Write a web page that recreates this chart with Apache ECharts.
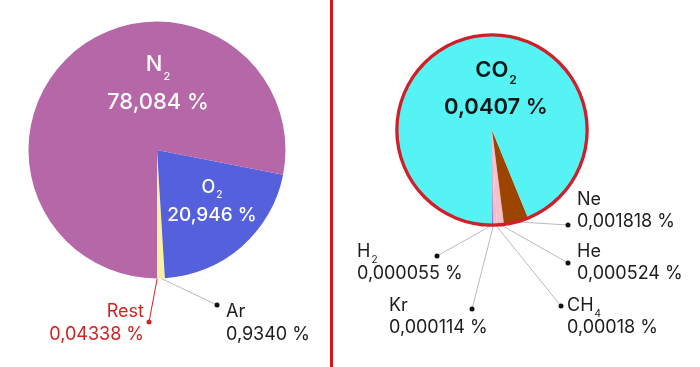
<!DOCTYPE html>
<html><head><meta charset="utf-8">
<style>html,body{margin:0;padding:0;background:#fff}#c{width:700px;height:367px}</style>
<script src="https://cdn.jsdelivr.net/npm/echarts@6/dist/echarts.min.js"></script>
</head><body><div id="c"></div>
<script>
// ---- data ----
const airNames = ['Rest', 'Ar', 'O2', 'N2'];
const airValues = [0.04338, 0.9340, 20.946, 78.084];
const airLabels = ['0,04338 %', '0,9340 %', '20,946 %', '78,084 %'];

const restNames = ['H2', 'Kr', 'CH4', 'He', 'Ne', 'CO2'];
const restValues = [0.000055, 0.000114, 0.00018, 0.000524, 0.001818, 0.0407];
const restLabels = ['0,000055 %', '0,000114 %', '0,00018 %', '0,000524 %', '0,001818 %', '0,0407 %'];

// ---- styles / layout ----
const colors = {Rest:'#b4b4b4', Ar:'#f8f1a2', O2:'#5460dc', N2:'#b567a7',
  H2:'#2b30c8', Kr:'#f3b3c0', CH4:'#f5bac6', He:'#f6bfc9', Ne:'#9c4500', CO2:'#55f3f3'};
const FONT = 'Inter, "Noto Sans", sans-serif';
// nc / vc: vertical centres of name line and value line; off: subscript drop
const textCfg = {
  N2:  {x:158, nc:64.2,  vc:102.4, align:'center', F:22, fs:11, off:12.5, vF:22, color:'#ffffff', w:500},
  O2:  {x:212, nc:187.5, vc:215,   align:'center', F:18, fs:10, off:7.5,  vF:19, color:'#ffffff', w:500},
  Rest:{x:144, nc:312,   vc:335,   align:'right',  F:18, fs:10, off:0,    vF:18, color:'#d42020', w:400},
  Ar:  {x:226, nc:312,   vc:335,   align:'left',   F:18, fs:10, off:0,    vF:18, color:'#1c1c1c', w:400},
  CO2: {x:496, nc:70.8,  vc:107.5, align:'center', F:22, fs:12, off:10,   vF:22, color:'#0c1616', w:600},
  Ne:  {x:577, nc:199.5, vc:221.5, align:'left',   F:18, fs:10, off:0,    vF:18, color:'#1c1c1c', w:400},
  He:  {x:577, nc:252,   vc:274,   align:'left',   F:18, fs:10, off:0,    vF:18, color:'#1c1c1c', w:400},
  CH4: {x:567, nc:305.5, vc:327.5, align:'left',   F:18, fs:10, off:8.5,  vF:18, color:'#1c1c1c', w:400},
  Kr:  {x:389, nc:305.5, vc:327.5, align:'left',   F:18, fs:10, off:0,    vF:18, color:'#1c1c1c', w:400},
  H2:  {x:357, nc:252,   vc:274,   align:'left',   F:18, fs:10, off:8,    vF:18, color:'#1c1c1c', w:400}
};
Object.keys(textCfg).forEach(k => {
  const c = textCfg[k];
  c.Lm = c.F + 2;
  c.top = c.nc - c.Lm / 2;
  c.L2 = Math.max(2, 2 * (c.vc - c.nc - c.Lm / 2));
});
const dotPos = {Rest:[149,322], Ar:[217,305], Ne:[568,225], He:[568,263], CH4:[561,306], Kr:[472,309], H2:[437,256]};

function nameRich(name) {
  return name.match(/[A-Za-z]+|\d+/g).map(s => /\d/.test(s) ? '{s|' + s + '}' : '{n|' + s + '}').join('');
}

function textData(names, values, labels) {
  return names.map((n, i) => {
    const c = textCfg[n];
    return {
      name: n, value: values[i],
      itemStyle: {color: colors[n]},
      label: {
        show: true, color: c.color,
        formatter: nameRich(n) + '\n{v|' + labels[i] + '}',
        rich: {
          n: {fontFamily: FONT, fontSize: c.F, fontWeight: c.w, color: c.color, lineHeight: c.Lm},
          s: {fontFamily: FONT, fontSize: c.fs, fontWeight: c.w, color: c.color, lineHeight: c.fs, padding: [2 * c.off, 0, 0, 1]},
          v: {fontFamily: FONT, fontSize: c.vF, fontWeight: c.w, color: c.color, lineHeight: c.L2}
        }
      }
    };
  });
}

function dotData(names, values) {
  return names.map((n, i) => {
    const d = dotPos[n];
    const col = n === 'Rest' ? '#d42020' : '#111';
    return {
      name: n, value: values[i],
      label: d ? {show: true, formatter: '{d| }', rich: {d: {width: 5, height: 5, borderRadius: 2.5, backgroundColor: col, fontSize: 4, lineHeight: 5}}} : {show: false},
      labelLine: d ? {show: true, lineStyle: {color: n === 'Rest' ? '#d42020' : '#a8a8a8', width: n === 'Rest' ? 1 : 0.8}} : {show: false}
    };
  });
}

function textLayout(names) {
  return function (params) {
    const c = textCfg[names[params.dataIndex]];
    return {x: c.x, y: c.top, align: c.align, verticalAlign: 'top'};
  };
}
function dotLayout(names) {
  return function (params) {
    const d = dotPos[names[params.dataIndex]];
    if (!d) return {};
    const out = {x: d[0], y: d[1], align: 'center', verticalAlign: 'middle'};
    if (params.labelLinePoints) out.labelLinePoints = [params.labelLinePoints[0], d.slice(), d.slice()];
    return out;
  };
}

const leftCenter = [157, 150], leftR = 128.5;
const rightCenter = [492, 130], rightR = 95;

const chart = echarts.init(document.getElementById('c'), null, {renderer: 'canvas'});
chart.setOption({
  animation: false,
  backgroundColor: '#ffffff',
  graphic: [{type: 'rect', shape: {x: 330, y: 0, width: 3, height: 367}, style: {fill: '#d5151d'}, silent: true}],
  series: [
    {type: 'pie', center: leftCenter, radius: leftR, startAngle: 270, clockwise: false,
     avoidLabelOverlap: false, silent: true,
     label: {position: 'inside'}, labelLine: {show: false},
     labelLayout: textLayout(airNames),
     data: textData(airNames, airValues, airLabels)},
    {type: 'pie', center: leftCenter, radius: leftR, startAngle: 270, clockwise: false,
     avoidLabelOverlap: false, silent: true, itemStyle: {color: 'rgba(0,0,0,0)'},
     label: {position: 'outside'}, labelLine: {length: 10, length2: 10},
     labelLayout: dotLayout(airNames),
     data: dotData(airNames, airValues)},
    {type: 'pie', center: rightCenter, radius: rightR, startAngle: 270, clockwise: false,
     avoidLabelOverlap: false, silent: true,
     label: {position: 'inside'}, labelLine: {show: false},
     labelLayout: textLayout(restNames),
     data: textData(restNames, restValues, restLabels)},
    {type: 'pie', center: rightCenter, radius: [93.5, 96.8], silent: true,
     label: {show: false}, labelLine: {show: false},
     data: [{name: 'Rest', value: restValues.reduce((a, b) => a + b, 0), itemStyle: {color: '#d01f28'}}]},
    {type: 'pie', center: rightCenter, radius: rightR, startAngle: 270, clockwise: false,
     avoidLabelOverlap: false, silent: true, itemStyle: {color: 'rgba(0,0,0,0)'},
     label: {position: 'outside'}, labelLine: {length: 10, length2: 10},
     labelLayout: dotLayout(restNames),
     data: dotData(restNames, restValues)}
  ]
});
</script></body></html>
